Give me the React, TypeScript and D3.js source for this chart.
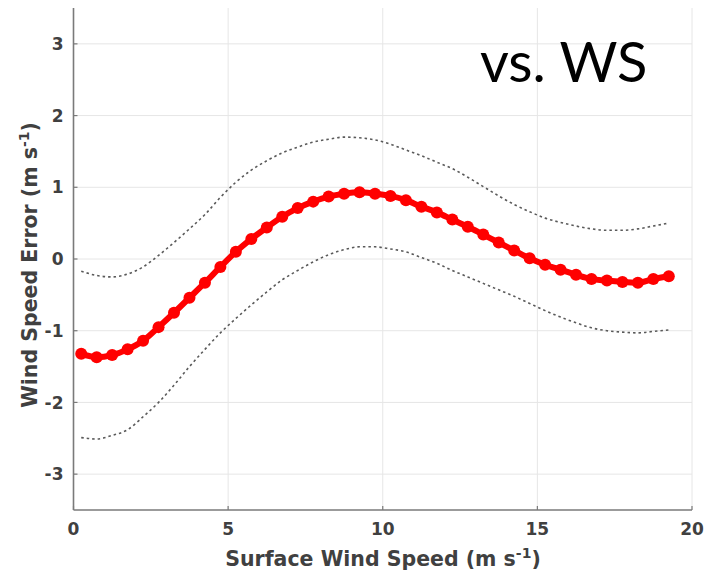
import React from "react";
import * as d3 from "d3";

const windSpeed = [0.25, 0.75, 1.25, 1.75, 2.25, 2.75, 3.25, 3.75, 4.25, 4.75, 5.25, 5.75, 6.25, 6.75, 7.25, 7.75, 8.25, 8.75, 9.25, 9.75, 10.25, 10.75, 11.25, 11.75, 12.25, 12.75, 13.25, 13.75, 14.25, 14.75, 15.25, 15.75, 16.25, 16.75, 17.25, 17.75, 18.25, 18.75, 19.25];
const meanError = [-1.32, -1.37, -1.34, -1.26, -1.14, -0.95, -0.75, -0.54, -0.33, -0.11, 0.10, 0.28, 0.44, 0.59, 0.71, 0.80, 0.87, 0.91, 0.93, 0.91, 0.88, 0.82, 0.73, 0.65, 0.55, 0.45, 0.34, 0.23, 0.12, 0.01, -0.08, -0.15, -0.22, -0.28, -0.30, -0.32, -0.33, -0.28, -0.24];
const upperBound = [-0.17, -0.23, -0.25, -0.21, -0.11, 0.05, 0.23, 0.42, 0.62, 0.86, 1.07, 1.24, 1.37, 1.48, 1.56, 1.63, 1.67, 1.70, 1.69, 1.66, 1.60, 1.52, 1.44, 1.35, 1.26, 1.14, 1.01, 0.88, 0.76, 0.66, 0.57, 0.51, 0.46, 0.42, 0.40, 0.40, 0.42, 0.46, 0.50];
const lowerBound = [-2.49, -2.51, -2.46, -2.38, -2.20, -2.00, -1.76, -1.50, -1.26, -1.03, -0.83, -0.64, -0.46, -0.29, -0.16, -0.04, 0.06, 0.13, 0.17, 0.17, 0.14, 0.10, 0.02, -0.06, -0.16, -0.25, -0.34, -0.43, -0.52, -0.62, -0.72, -0.81, -0.89, -0.96, -1.00, -1.02, -1.03, -1.01, -0.99];
const xTicks = [0, 5, 10, 15, 20];
const yTicks = [-3, -2, -1, 0, 1, 2, 3];

const W = 710, H = 572;
const left = 73.5, right = 692, top = 8, bottom = 510;

export default function App() {
  const x = d3.scaleLinear().domain([0, 20]).range([left, right]);
  const y = d3.scaleLinear().domain([-3.5, 3.5]).range([bottom, top]);
  const line = (vals: number[]) =>
    d3.line<number>().x((_, i) => x(windSpeed[i])).y((v) => y(v)).curve(d3.curveMonotoneX)(vals) || "";
  const txt = "#404040";
  const font = "DejaVu Sans, sans-serif";
  return (
    <div style={{ position: "absolute", left: 0, top: 0 }}>
      <svg width={W} height={H} style={{ display: "block", background: "#fff" }}>
        {xTicks.map((t) => (
          <line key={"gx" + t} x1={x(t)} x2={x(t)} y1={top} y2={bottom} stroke="#e6e6e6" strokeWidth={1} />
        ))}
        {yTicks.map((t) => (
          <line key={"gy" + t} x1={left} x2={right} y1={y(t)} y2={y(t)} stroke="#e6e6e6" strokeWidth={1} />
        ))}
        <line x1={left} x2={left} y1={top} y2={bottom} stroke="#7a7a7a" strokeWidth={1.6} />
        <line x1={left} x2={right} y1={bottom} y2={bottom} stroke="#7a7a7a" strokeWidth={1.6} />
        {yTicks.map((t) => (
          <line key={"ty" + t} x1={left} x2={left + 4} y1={y(t)} y2={y(t)} stroke="#7a7a7a" strokeWidth={1.2} />
        ))}
        {xTicks.map((t) => (
          <line key={"tx" + t} x1={x(t)} x2={x(t)} y1={bottom} y2={bottom - 4} stroke="#7a7a7a" strokeWidth={1.2} />
        ))}
        {yTicks.map((t) => (
          <text key={"ly" + t} x={left - 10} y={y(t)} dy="0.36em" textAnchor="end" fontFamily={font} fontWeight="bold" fontSize={17} fill={txt}>
            {t}
          </text>
        ))}
        {xTicks.map((t) => (
          <text key={"lx" + t} x={x(t)} y={535} textAnchor="middle" fontFamily={font} fontWeight="bold" fontSize={17} fill={txt}>
            {t}
          </text>
        ))}
        <text x={383} y={566} textAnchor="middle" fontFamily={font} fontWeight="bold" fontSize={20.5} fill={txt}>
          Surface Wind Speed (m s<tspan dy={-8} fontSize={14}>-1</tspan><tspan dy={8}>)</tspan>
        </text>
        <text transform={`translate(37,265) rotate(-90)`} textAnchor="middle" fontFamily={font} fontWeight="bold" fontSize={20.5} fill={txt}>
          Wind Speed Error (m s<tspan dy={-8} fontSize={14}>-1</tspan><tspan dy={8}>)</tspan>
        </text>
        <path d={line(upperBound)} fill="none" stroke="#5a5a5a" strokeWidth={1.6} strokeDasharray="2.5,3" />
        <path d={line(lowerBound)} fill="none" stroke="#5a5a5a" strokeWidth={1.6} strokeDasharray="2.5,3" />
        <path d={line(meanError)} fill="none" stroke="#ff0000" strokeWidth={6} />
        {meanError.map((v, i) => (
          <circle key={"c" + i} cx={x(windSpeed[i])} cy={y(v)} r={6} fill="#ff0000" />
        ))}
        <text x={480} y={82} fontFamily="Lato, Open Sans, sans-serif" fontSize={56} fill="#000">
          vs. WS
        </text>
      </svg>
    </div>
  );
}
